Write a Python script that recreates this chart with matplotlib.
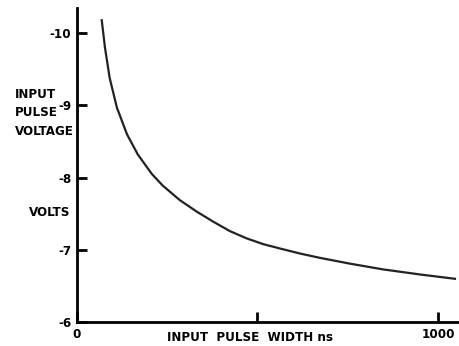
import matplotlib
matplotlib.use("Agg")
import matplotlib.pyplot as plt

# values
pulse_width = [69, 78, 91, 111, 139, 169, 208, 238, 285, 332, 378, 424,
               470, 516, 562, 618, 673, 756, 848, 950, 1047]
pulse_volts = [-10.18, -9.80, -9.38, -8.97, -8.60, -8.32, -8.05, -7.89, -7.69,
               -7.53, -7.39, -7.26, -7.16, -7.08, -7.02, -6.95, -6.89, -6.81,
               -6.73, -6.66, -6.60]

y_ticks = [-10, -9, -8, -7, -6]
y_labels = ["-10", "-9", "-8", "-7", "-6"]
x_ticks = [0, 500, 1000]
x_labels = ["0", "", "1000"]
ylabel_lines = ["INPUT", "PULSE", "VOLTAGE"]

plt.rcParams['font.family'] = ['DejaVu Sans']
plt.rcParams['font.stretch'] = 'condensed'
plt.rcParams['font.weight'] = 'bold'

fig = plt.figure(figsize=(4.6, 3.46), dpi=100)
ax = fig.add_axes([0.167, 0.069, 0.833, 0.908])

ax.plot(pulse_width, pulse_volts, color='#222222', lw=1.6,
        solid_joinstyle='round')

ax.set_xlim(0, 1061)
ax.set_ylim(-6, -10.35)

ax.spines['top'].set_visible(False)
ax.spines['right'].set_visible(False)
ax.spines['left'].set_linewidth(2)
ax.spines['bottom'].set_linewidth(2)

ax.set_yticks(y_ticks)
ax.set_yticklabels(y_labels, fontsize=9.5, fontweight='bold')
ax.set_xticks(x_ticks)
ax.set_xticklabels(x_labels, fontsize=9.5, fontweight='bold')
ax.tick_params(axis='both', direction='in', length=7, width=2, pad=4)

fig.text(0.543, 0.024, "INPUT  PULSE  WIDTH ns", fontsize=9.5, fontweight='bold',
         ha='center', va='center')
# y label drawn line by line, as in the original
for line, ypos in zip(ylabel_lines, [0.728, 0.676, 0.621]):
    fig.text(0.033, ypos, line, fontsize=9.5, fontweight='bold',
             ha='left', va='center')
fig.text(0.153, 0.387, "VOLTS", fontsize=9.5, fontweight='bold',
         ha='right', va='center')

fig.savefig("out.png", dpi=100)
